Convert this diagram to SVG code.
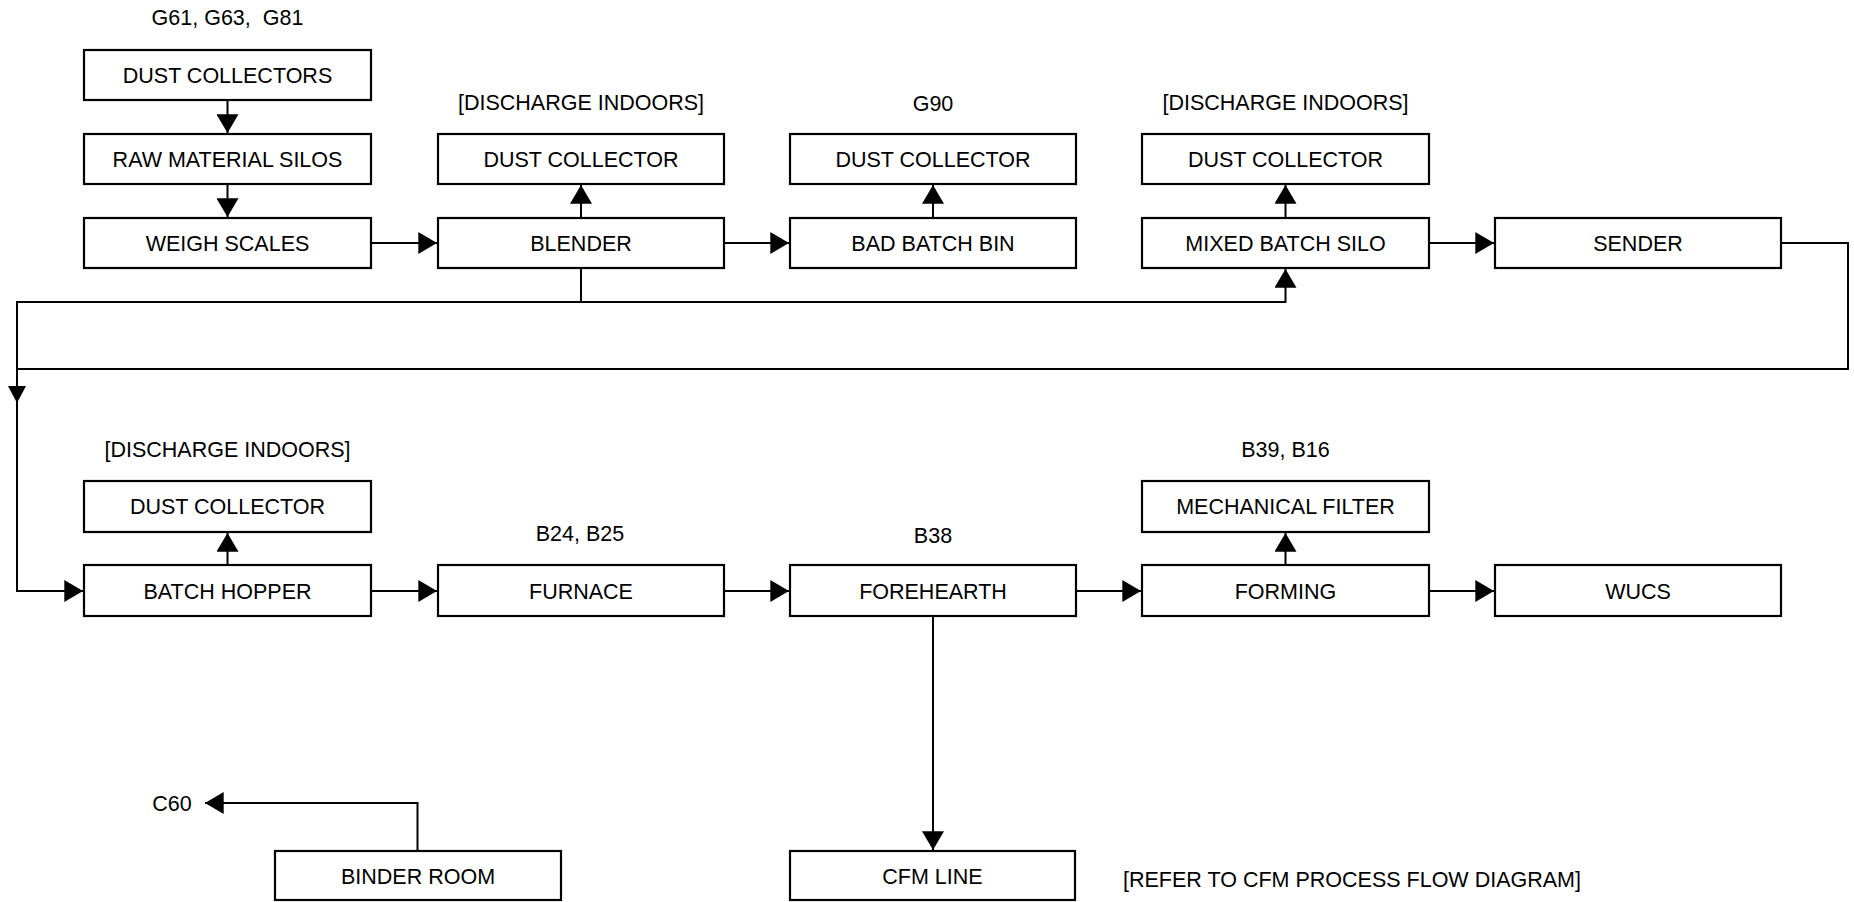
<svg xmlns="http://www.w3.org/2000/svg" width="1854" height="902" viewBox="0 0 1854 902">
<defs>
<style>
.box{fill:#fff;stroke:#000;stroke-width:2.2}
.t{font-family:"Liberation Sans",Arial,sans-serif;font-size:21.5px;fill:#000;text-anchor:middle}
.l{font-size:21.5px}
.c{fill:none;stroke:#000;stroke-width:2}
</style>
<marker id="ah" markerUnits="userSpaceOnUse" markerWidth="20" markerHeight="22" refX="17" refY="10" orient="auto" viewBox="0 0 18 20">
<path d="M0,0 L17,10 L0,20 Z" fill="#000"/>
</marker>
</defs>
<rect width="1854" height="902" fill="#fff"/>
<g id="connectors">
<path class="c" d="M227.5,100 V133" marker-end="url(#ah)"/>
<path class="c" d="M227.5,184 V217" marker-end="url(#ah)"/>
<path class="c" d="M371,243 H437" marker-end="url(#ah)"/>
<path class="c" d="M724,243 H789" marker-end="url(#ah)"/>
<path class="c" d="M581,218 V185" marker-end="url(#ah)"/>
<path class="c" d="M933,218 V185" marker-end="url(#ah)"/>
<path class="c" d="M1285.5,218 V185" marker-end="url(#ah)"/>
<path class="c" d="M1429,243 H1494" marker-end="url(#ah)"/>
<path class="c" d="M581,268 V302 H1285.5 V269" marker-end="url(#ah)"/>
<path class="c" d="M581,302 H17 V591 H83" marker-end="url(#ah)"/>
<path class="c" d="M1781,243 H1848 V369 H17"/>
<path d="M8,386 L26,386 L17,403 Z" fill="#000"/>
<path class="c" d="M227.5,565 V533" marker-end="url(#ah)"/>
<path class="c" d="M371,591 H437" marker-end="url(#ah)"/>
<path class="c" d="M724,591 H789" marker-end="url(#ah)"/>
<path class="c" d="M1076,591 H1141" marker-end="url(#ah)"/>
<path class="c" d="M1285.5,565 V533" marker-end="url(#ah)"/>
<path class="c" d="M1429,591 H1494" marker-end="url(#ah)"/>
<path class="c" d="M933,616 V850" marker-end="url(#ah)"/>
<path class="c" d="M417.5,851 V803 H205" marker-end="url(#ah)"/>
</g>
<g id="labels">
<text class="t l" x="227.5" y="25" xml:space="preserve">G61, G63,  G81</text>
<text class="t l" x="581" y="110">[DISCHARGE INDOORS]</text>
<text class="t l" x="933" y="111">G90</text>
<text class="t l" x="1285.5" y="110">[DISCHARGE INDOORS]</text>
<text class="t l" x="227.5" y="457">[DISCHARGE INDOORS]</text>
<text class="t l" x="580" y="541">B24, B25</text>
<text class="t l" x="933" y="543">B38</text>
<text class="t l" x="1285.5" y="457">B39, B16</text>
<text class="t l" x="172" y="811">C60</text>
<text class="t l" x="1352" y="887">[REFER TO CFM PROCESS FLOW DIAGRAM]</text>
</g>
<g id="n-dust-collectors"><rect class="box" x="84" y="50" width="287" height="50"/><text class="t" x="227.5" y="83">DUST COLLECTORS</text></g>
<g id="n-raw-material-silos"><rect class="box" x="84" y="134" width="287" height="50"/><text class="t" x="227.5" y="167">RAW MATERIAL SILOS</text></g>
<g id="n-weigh-scales"><rect class="box" x="84" y="218" width="287" height="50"/><text class="t" x="227.5" y="251">WEIGH SCALES</text></g>
<g id="n-dust-collector-1"><rect class="box" x="438" y="134" width="286" height="50"/><text class="t" x="581" y="167">DUST COLLECTOR</text></g>
<g id="n-blender"><rect class="box" x="438" y="218" width="286" height="50"/><text class="t" x="581" y="251">BLENDER</text></g>
<g id="n-dust-collector-2"><rect class="box" x="790" y="134" width="286" height="50"/><text class="t" x="933" y="167">DUST COLLECTOR</text></g>
<g id="n-bad-batch-bin"><rect class="box" x="790" y="218" width="286" height="50"/><text class="t" x="933" y="251">BAD BATCH BIN</text></g>
<g id="n-dust-collector-3"><rect class="box" x="1142" y="134" width="287" height="50"/><text class="t" x="1285.5" y="167">DUST COLLECTOR</text></g>
<g id="n-mixed-batch-silo"><rect class="box" x="1142" y="218" width="287" height="50"/><text class="t" x="1285.5" y="251">MIXED BATCH SILO</text></g>
<g id="n-sender"><rect class="box" x="1495" y="218" width="286" height="50"/><text class="t" x="1638" y="251">SENDER</text></g>
<g id="n-dust-collector-4"><rect class="box" x="84" y="481" width="287" height="51"/><text class="t" x="227.5" y="514">DUST COLLECTOR</text></g>
<g id="n-batch-hopper"><rect class="box" x="84" y="565" width="287" height="51"/><text class="t" x="227.5" y="599">BATCH HOPPER</text></g>
<g id="n-furnace"><rect class="box" x="438" y="565" width="286" height="51"/><text class="t" x="581" y="599">FURNACE</text></g>
<g id="n-forehearth"><rect class="box" x="790" y="565" width="286" height="51"/><text class="t" x="933" y="599">FOREHEARTH</text></g>
<g id="n-mechanical-filter"><rect class="box" x="1142" y="481" width="287" height="51"/><text class="t" x="1285.5" y="514">MECHANICAL FILTER</text></g>
<g id="n-forming"><rect class="box" x="1142" y="565" width="287" height="51"/><text class="t" x="1285.5" y="599">FORMING</text></g>
<g id="n-wucs"><rect class="box" x="1495" y="565" width="286" height="51"/><text class="t" x="1638" y="599">WUCS</text></g>
<g id="n-binder-room"><rect class="box" x="275" y="851" width="286" height="49"/><text class="t" x="418" y="884">BINDER ROOM</text></g>
<g id="n-cfm-line"><rect class="box" x="790" y="851" width="285" height="49"/><text class="t" x="932.5" y="884">CFM LINE</text></g>
</svg>
